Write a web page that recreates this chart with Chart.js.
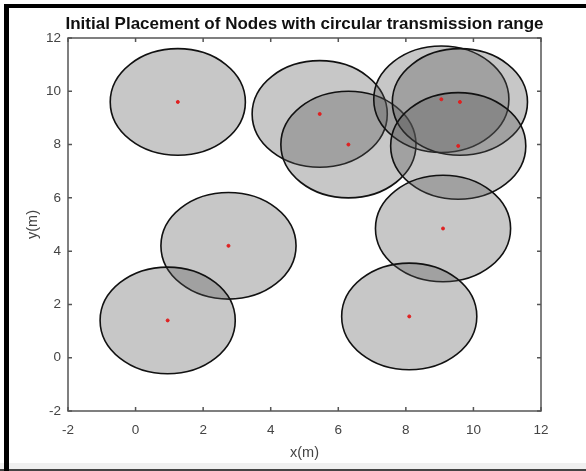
<!DOCTYPE html>
<html>
<head>
  <title>Initial Placement of Nodes</title>
  <script src="https://cdn.jsdelivr.net/npm/chart.js"></script>
  <style>
    body { margin: 0; background: #fff; }
    canvas { display: block; }
  </style>
</head>
<body>
  <canvas id="nodeChart" width="586" height="471"></canvas>
  <script>
    // node positions
    const nodeX = [1.25, 5.45, 6.3, 9.05, 9.6, 9.55, 9.1, 2.75, 0.95, 8.1];
    const nodeY = [9.6, 9.15, 8.0, 9.7, 9.6, 7.95, 4.85, 4.2, 1.4, 1.55];
    const rangeRadius = 2;
    const xTicks = [-2, 0, 2, 4, 6, 8, 10, 12];
    const yTicks = [-2, 0, 2, 4, 6, 8, 10, 12];
    const titleText = 'Initial Placement of Nodes with circular transmission range';

    const points = nodeX.map((x, i) => ({ x: x, y: nodeY[i] }));

    // frame around the figure, like the screenshot border
    const framePlugin = {
      id: 'frame',
      beforeDraw(chart) {
        const ctx = chart.ctx;
        ctx.save();
        ctx.fillStyle = '#fff';
        ctx.fillRect(0, 0, chart.width, chart.height);
        ctx.fillStyle = '#f0f0f0';
        ctx.fillRect(0, 463, chart.width, 6);
        ctx.fillStyle = '#444';
        ctx.fillRect(0, 469, chart.width, 2);
        ctx.fillStyle = '#000';
        ctx.fillRect(4, 4, 5, chart.height - 4);
        ctx.fillRect(4, 4, chart.width - 4, 4);
        ctx.restore();
      }
    };

    // transmission range circles, in data units (they come out as ellipses)
    const rangePlugin = {
      id: 'ranges',
      beforeDatasetsDraw(chart) {
        const ctx = chart.ctx;
        const xs = chart.scales.x, ys = chart.scales.y;
        const a = chart.chartArea;
        ctx.save();
        ctx.beginPath();
        ctx.rect(a.left, a.top, a.right - a.left, a.bottom - a.top);
        ctx.clip();
        nodeX.forEach((x, i) => {
          const cx = xs.getPixelForValue(x);
          const cy = ys.getPixelForValue(nodeY[i]);
          const rx = Math.abs(xs.getPixelForValue(x + rangeRadius) - cx);
          const ry = Math.abs(ys.getPixelForValue(nodeY[i] + rangeRadius) - cy);
          ctx.beginPath();
          ctx.ellipse(cx, cy, rx, ry, 0, 0, Math.PI * 2);
          ctx.fillStyle = 'rgba(84,84,84,0.33)';
          ctx.fill();
          ctx.lineWidth = 1.6;
          ctx.strokeStyle = '#111';
          ctx.stroke();
        });
        ctx.restore();
      },
      afterDatasetsDraw(chart) {
        // box with inward ticks on all four sides
        const ctx = chart.ctx;
        const xs = chart.scales.x, ys = chart.scales.y;
        const a = chart.chartArea;
        ctx.save();
        ctx.strokeStyle = '#555';
        ctx.lineWidth = 1.5;
        ctx.strokeRect(a.left, a.top, a.right - a.left, a.bottom - a.top);
        ctx.beginPath();
        xTicks.forEach(t => {
          const px = xs.getPixelForValue(t);
          ctx.moveTo(px, a.bottom); ctx.lineTo(px, a.bottom - 4);
          ctx.moveTo(px, a.top); ctx.lineTo(px, a.top + 4);
        });
        yTicks.forEach(t => {
          const py = ys.getPixelForValue(t);
          ctx.moveTo(a.left, py); ctx.lineTo(a.left + 4, py);
          ctx.moveTo(a.right, py); ctx.lineTo(a.right - 4, py);
        });
        ctx.stroke();
        ctx.fillStyle = '#111';
        ctx.font = 'bold 17px "Liberation Sans", Arial, sans-serif';
        ctx.textAlign = 'center';
        ctx.textBaseline = 'middle';
        ctx.fillText(titleText, (a.left + a.right) / 2, 24);
        ctx.restore();
      }
    };

    const tickFont = { family: '"Liberation Sans", Arial, sans-serif', size: 13.5 };
    const labelFont = { family: '"Liberation Sans", Arial, sans-serif', size: 14.5 };

    new Chart(document.getElementById('nodeChart'), {
      type: 'scatter',
      data: {
        datasets: [{
          label: 'Nodes',
          data: points,
          backgroundColor: '#e02020',
          borderColor: '#e02020',
          pointRadius: 1.5,
          pointHoverRadius: 1.5
        }]
      },
      options: {
        responsive: false,
        animation: false,
        devicePixelRatio: 1,
        layout: { padding: { top: 38, right: 45, left: 0, bottom: 0 } },
        plugins: {
          legend: { display: false },
          tooltip: { enabled: false }
        },
        scales: {
          x: {
            type: 'linear',
            min: -2,
            max: 12,
            afterBuildTicks: s => { s.ticks = xTicks.map(v => ({ value: v })); },
            afterFit: s => { s.height = 60; },
            grid: { display: false, drawTicks: false },
            border: { display: false },
            ticks: { padding: 11, color: '#444', font: tickFont },
            title: { display: true, text: 'x(m)', color: '#444',
                     font: labelFont, padding: { top: 0, bottom: 9 } }
          },
          y: {
            type: 'linear',
            min: -2,
            max: 12,
            afterBuildTicks: s => { s.ticks = yTicks.map(v => ({ value: v })); },
            afterFit: s => { s.width = 68; },
            grid: { display: false, drawTicks: false },
            border: { display: false },
            ticks: { padding: 7, color: '#444', font: tickFont },
            title: { display: true, text: 'y(m)', color: '#444',
                     font: labelFont, padding: { top: 24, bottom: 0 } }
          }
        }
      },
      plugins: [framePlugin, rangePlugin]
    });
  </script>
</body>
</html>
